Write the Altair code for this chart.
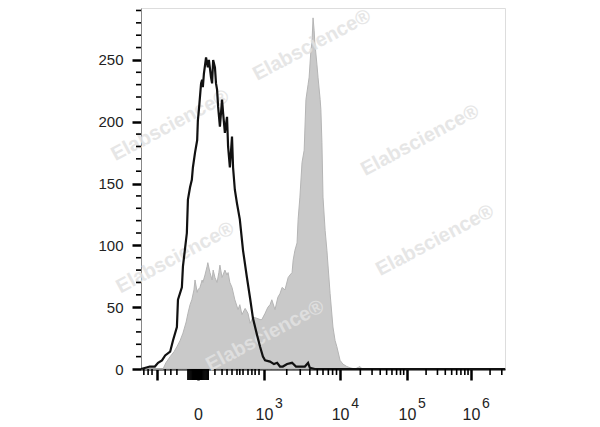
import altair as alt
import pandas as pd

# ---- data (x in display channels 0..1024, y = event count) ----
black_ch = [0, 25, 39, 48, 59, 68, 82, 90, 101, 104, 115, 118, 129,
            132, 138, 143, 146, 152, 158, 160, 163, 169, 172, 174, 177, 183, 188, 191, 197, 200, 203, 208,
            211, 214, 217, 222, 228, 231, 236, 242, 245, 250, 256, 259, 264, 270,
            278, 287, 298, 307, 315, 326, 335, 343, 349, 363, 374, 383, 391, 399, 411, 425, 436, 447,
            461, 470, 475, 489, 1024]
black_count = [0, 2, 2, 5, 7, 11, 14, 23, 34, 56, 66, 83, 110,
               137, 147, 153, 163, 175, 185, 201, 210, 231, 234, 228, 239, 252, 244, 250, 236, 231, 250, 244,
               231, 226, 212, 196, 218, 207, 191, 204, 180, 163, 188, 163, 145, 134,
               121, 96, 74, 57, 41, 28, 18, 10, 7, 6, 4, 5, 2, 2, 4, 5, 2, 2,
               2, 5, 1, 0, 0]

gray_ch = [0, 62, 70, 82, 93, 101, 110, 118, 127, 132, 138, 143, 149, 152, 158, 160, 166, 172, 174, 180,
           186, 188, 194, 200, 203, 208, 214, 219, 222, 228, 236, 242, 245, 250, 256, 264, 273, 278, 284, 293,
           301, 307, 315, 326, 335, 340, 349, 357, 363, 368, 377, 385, 391, 397, 405, 414, 419, 425, 428, 433,
           439, 442, 447, 453, 459, 464, 470, 473, 478, 481, 484, 487, 489, 495, 498, 504, 506, 509, 512, 518,
           523, 532, 540, 546, 551, 560, 568, 579, 588, 602, 616, 622, 1024]
gray_count = [0, 0, 5, 10, 14, 18, 23, 29, 38, 45, 52, 56, 64, 72, 62, 64, 66, 72, 70, 76,
              83, 86, 78, 72, 80, 74, 70, 78, 84, 74, 80, 76, 78, 70, 66, 56, 48, 52, 44, 49,
              45, 37, 42, 41, 40, 40, 45, 50, 52, 56, 48, 58, 61, 66, 64, 74, 76, 78, 88, 96,
              102, 121, 139, 167, 177, 218, 230, 236, 258, 264, 284, 274, 264, 246, 236, 218, 210, 183, 139, 112,
              96, 61, 34, 23, 18, 7, 4, 2, 1, 0, 2, 0, 0]

# axis ticks (channel positions)
x_major = [45, 160, 346, 560, 748, 928]
x_label_pos = [160, 346, 560, 748, 928]
x_label_base = ["0", "10", "10", "10", "10"]
x_label_exp = ["", "3", "4", "5", "6"]
x_minor = [8, 20, 31, 68, 84, 101, 208, 228, 242, 256, 270, 278, 287, 301, 312, 321, 332,
           410, 448, 475, 496, 512, 527, 539, 550,
           617, 650, 673, 691, 706, 719, 730, 739,
           802, 834, 856, 874, 888, 900, 911, 920,
           982, 1015]
x_zero_cluster = list(range(132, 190, 3))
y_major = [0, 50, 100, 150, 200, 250]
y_minor = [10, 20, 30, 40, 60, 70, 80, 90, 110, 120, 130, 140, 160, 170, 180, 190, 210, 220, 230, 240,
           260, 270, 280, 290]

wm_ch = [82, 481, 785, 96, 827, 349]
wm_count = [197, 262, 185, 90, 104, 27]
wm_text = ["Elabscience®"] * 6

FONT = "Liberation Sans"
W, H = 364, 361

df_black = pd.DataFrame({"ch": black_ch, "count": black_count})
df_gray = pd.DataFrame({"ch": gray_ch, "count": gray_count})
df_xminor = pd.DataFrame({"ch": x_minor})
df_xcl = pd.DataFrame({"ch": x_zero_cluster})
df_yminor = pd.DataFrame({"count": y_minor})
df_exp = pd.DataFrame({"ch": x_label_pos, "e": x_label_exp})
df_wm = pd.DataFrame({"ch": wm_ch, "count": wm_count, "t": wm_text})

xs = alt.Scale(domain=[0, 1024], nice=False, zero=False)
ys = alt.Scale(domain=[0, 292], nice=False)

label_map = "{" + ",".join(f"'{p}':'{b}'" for p, b in zip(x_label_pos, x_label_base)) + "}"
x_axis = alt.Axis(values=x_major, labelExpr=f"({label_map})[''+datum.value] || ''",
                  tickSize=11, tickWidth=2.5, tickColor="black", domainColor="black", domainWidth=2,
                  labelFontSize=16, labelPadding=26, labelColor="#222", labelFont=FONT,
                  grid=False, title=None, labelFlush=False, labelOverlap=False)
y_axis = alt.Axis(values=y_major, tickSize=9, tickWidth=2.5, tickColor="black",
                  domainColor="#888", domainWidth=1, labelFontSize=15, labelPadding=9,
                  labelColor="#222", labelFont=FONT, grid=False, title=None)

X = alt.X("ch:Q", scale=xs, axis=x_axis, title=None)
Y = alt.Y("count:Q", scale=ys, axis=y_axis, title=None)

gray = alt.Chart(df_gray).mark_area(fill="#c9c9c9", stroke="#b5b5b5", strokeWidth=1).encode(x=X, y=Y)
wm = alt.Chart(df_wm).mark_text(angle=332, fontSize=20, fontWeight="bold", font=FONT,
                                color="#e2e2e2", opacity=0.85).encode(x=X, y=Y, text="t:N")
black = alt.Chart(df_black).mark_line(color="#111111", strokeWidth=2.2).encode(x=X, y=Y)
xminor = alt.Chart(df_xminor).mark_rule(color="black", strokeWidth=1.6).encode(
    x=X, y=alt.value(H), y2=alt.value(H + 6))
xcl = alt.Chart(df_xcl).mark_rule(color="black", strokeWidth=1.6).encode(
    x=X, y=alt.value(H), y2=alt.value(H + 11))
yminor = alt.Chart(df_yminor).mark_rule(color="black", strokeWidth=1.6).encode(
    y=Y, x=alt.value(-5), x2=alt.value(0))
exps = alt.Chart(df_exp).mark_text(fontSize=14, font=FONT, dx=15, baseline="alphabetic",
                                   align="center", color="#222").encode(
    x=X, y=alt.value(H + 39), text="e:N")

chart = alt.layer(gray, wm, black, xminor, xcl, yminor, exps).properties(
    width=W, height=H,
    autosize=alt.AutoSizeParams(type="none"),
    padding={"left": 133, "top": 0, "right": 10, "bottom": 60},
).configure_view(stroke="#999999", strokeWidth=1).configure(background="white")

chart.save("out.html", embed_options={"renderer": "svg", "actions": False})
